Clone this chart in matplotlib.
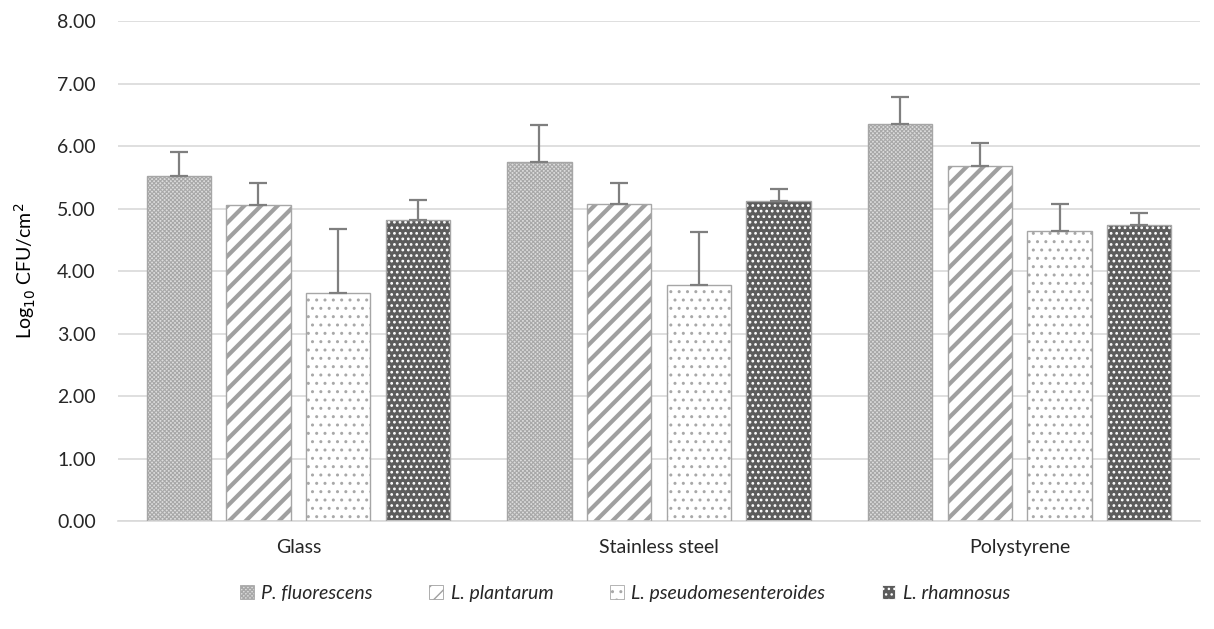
import numpy as np
import matplotlib.pyplot as plt
import matplotlib as mpl
from matplotlib.patches import Patch

plt.rcParams['font.family'] = ['Lato', 'DejaVu Sans']

surfaces = ["Glass", "Stainless steel", "Polystyrene"]
species = ["P. fluorescens", "L. plantarum", "L. pseudomesenteroides", "L. rhamnosus"]

# mean log10 CFU/cm2 per species, one value per surface
means = {
    "P. fluorescens":         [5.52, 5.74, 6.35],
    "L. plantarum":           [5.06, 5.08, 5.68],
    "L. pseudomesenteroides": [3.65, 3.77, 4.64],
    "L. rhamnosus":           [4.81, 5.12, 4.74],
}
# upper error (standard deviation)
errs = {
    "P. fluorescens":         [0.38, 0.60, 0.43],
    "L. plantarum":           [0.35, 0.33, 0.37],
    "L. pseudomesenteroides": [1.02, 0.86, 0.44],
    "L. rhamnosus":           [0.32, 0.19, 0.19],
}

# fill, hatch, hatch colour, hatch width
styles = {
    "P. fluorescens":         ("#dcdcdc", "xxxxxxxx", "#a8a8a8", 0.8),
    "L. plantarum":           ("white", "//", "#a0a0a0", 3.0),
    "L. pseudomesenteroides": ("white", "..", "#a8a8a8", 1.0),
    "L. rhamnosus":           ("#5c5c5c", "...", "white", 1.2),
}

txt = "#262626"

fig = plt.figure(figsize=(12.14, 6.29), dpi=100)
ax = fig.add_axes([0.0972, 0.1717, 0.8913, 0.7949])

x = np.arange(len(surfaces))
width = 0.178
step = 0.221

for i, sp in enumerate(species):
    pos = x + (i - 1.5) * step
    face, hatch, hcol, hlw = styles[sp]
    with mpl.rc_context({'hatch.linewidth': hlw}):
        ax.bar(pos, means[sp], width, color=face, hatch=hatch,
               edgecolor=hcol, linewidth=0, zorder=2)
    ax.bar(pos, means[sp], width, fill=False, edgecolor="#a6a6a6",
           linewidth=1.0, zorder=3)
    ax.errorbar(pos, means[sp], yerr=[np.zeros(3), errs[sp]], fmt="none",
                ecolor="#7f7f7f", elinewidth=1.6, capsize=6.5, capthick=1.6,
                zorder=4)

ax.set_xlim(-0.5, 2.5)
ax.set_ylim(0, 8)
ax.set_yticks(np.arange(0, 9, 1))
ax.set_yticklabels([f"{v:.2f}" for v in np.arange(0, 9, 1)], fontsize=14,
                   color=txt)
ax.set_xticks(x)
ax.set_xticklabels(surfaces, fontsize=14, color=txt)
ax.tick_params(length=0)
ax.tick_params(axis="y", pad=16)
ax.tick_params(axis="x", pad=13)
ax.grid(axis="y", color="#d9d9d9", linewidth=1.2, zorder=0)
ax.set_axisbelow(True)
for s in ["top", "right", "left"]:
    ax.spines[s].set_visible(False)
ax.spines["bottom"].set_color("#d9d9d9")
ax.spines["bottom"].set_linewidth(1.2)

ax.set_ylabel(r"Log$_{10}$ CFU/cm$^2$", fontsize=14, color="black",
              labelpad=14)

handles = []
for sp in species:
    face, hatch, hcol, hlw = styles[sp]
    handles.append(Patch(facecolor=face, hatch=hatch, edgecolor=hcol,
                         linewidth=0.6))
leg = fig.legend(handles, species, loc="center", bbox_to_anchor=(0.515, 0.057),
                 ncol=4, frameon=False, handlelength=0.7, handleheight=0.7,
                 handletextpad=0.4, columnspacing=2.9,
                 prop={"style": "italic", "size": 14})
for t in leg.get_texts():
    t.set_color(txt)

fig.savefig("out.png", dpi=100)
